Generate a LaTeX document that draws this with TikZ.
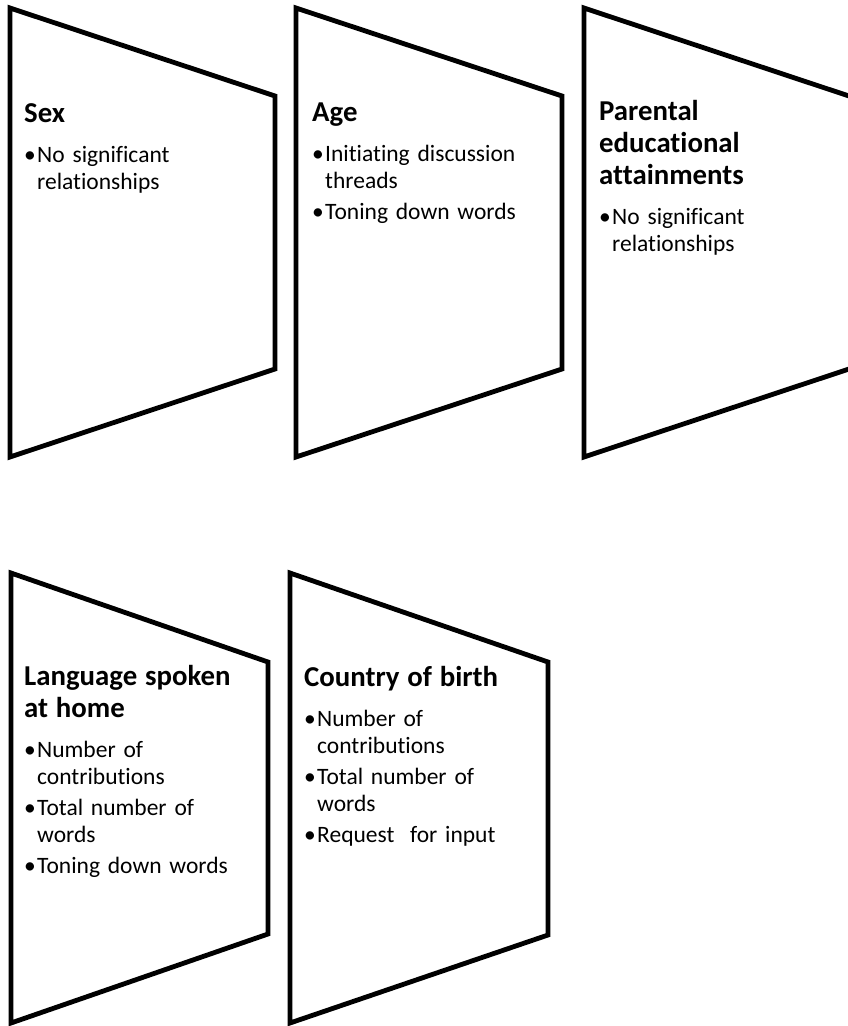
\documentclass[tikz,border=0pt]{standalone}
\usepackage{fontspec}
\setmainfont{Carlito}[Ligatures={NoCommon,NoRare,NoContextual}]
\newcommand\bulitem[1]{\par\hangindent=13pt\hangafter=1\noindent\makebox[13pt][l]{•}#1\par}
\newcommand\ttl[1]{\raggedright{\bfseries\fontsize{28.8}{32}\selectfont #1\par}\vspace{13pt}}
\newcommand\nl{\hfil\break}
\begin{document}
\begin{tikzpicture}[x=1pt,y=-1pt,
  panel/.style={draw=black,line width=4.8pt,line join=miter,fill=white},
  txt/.style={anchor=base west,inner sep=0pt,text width=250pt,
    font=\fontsize{23.5}{27}\selectfont}]
\useasboundingbox (0,0) rectangle (848,1026);
\clip (0,0) rectangle (848,1026);
% panels
\draw[panel] (10,8) coordinate (a1) -- (275,96) -- (275,369) -- (10,457) -- cycle;
\draw[panel] (296,8) coordinate (a2) -- (562,96) -- (562,369) -- (296,457) -- cycle;
\draw[panel] (584,8) coordinate (a3) -- (852,97) -- (852,368) -- (584,457) -- cycle;
\draw[panel] (11,573) coordinate (a4) -- (268,662) -- (268,934) -- (11,1023) -- cycle;
\draw[panel] (290,573) coordinate (a5) -- (548,662) -- (548,935) -- (290,1023) -- cycle;
% texts
\node[txt] (t1) at (24,122) {\ttl{Sex}%
  \bulitem{No significant\nl relationships}};
\node[txt] (t2) at (312,121) {\ttl{Age}%
  \bulitem{Initiating discussion\nl threads}\vspace{4pt}%
  \bulitem{Toning down words}};
\node[txt] (t3) at (599,120) {\ttl{Parental\nl educational\nl attainments}%
  \bulitem{No significant\nl relationships}};
\node[txt] (t4) at (24,685) {\ttl{Language spoken\nl at home}%
  \bulitem{Number of\nl contributions}\vspace{4pt}%
  \bulitem{Total number of\nl words}\vspace{4pt}%
  \bulitem{Toning down words}};
\node[txt] (t5) at (304,686) {\ttl{Country of birth}%
  \bulitem{Number of\nl contributions}\vspace{4pt}%
  \bulitem{Total number of\nl words}\vspace{4pt}%
  \bulitem{Request~ for input}};
\end{tikzpicture}
\end{document}
